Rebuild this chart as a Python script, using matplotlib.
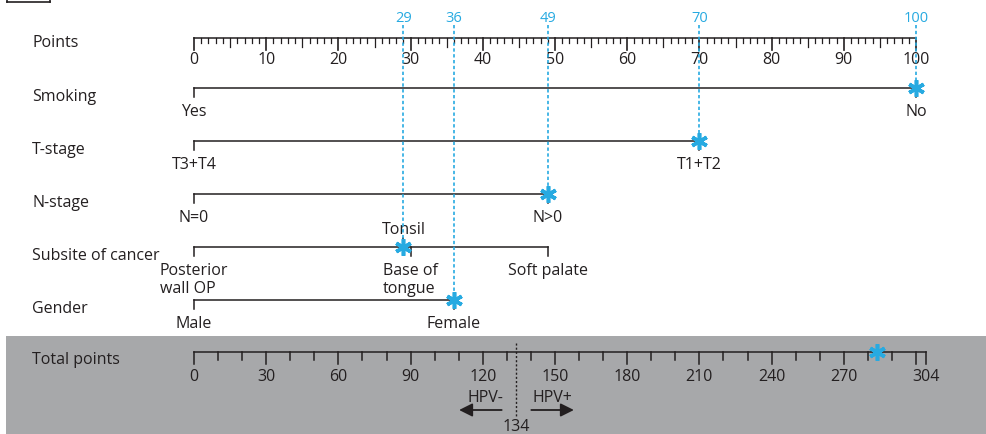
import matplotlib
matplotlib.use('Agg')
import matplotlib.pyplot as plt
from matplotlib.lines import Line2D
from matplotlib.patches import Rectangle
from matplotlib.transforms import blended_transform_factory

plt.rcParams['font.family'] = ['Open Sans', 'DejaVu Sans']

# nomogram variables and their point values
variables = ['Smoking', 'T-stage', 'N-stage', 'Subsite of cancer', 'Gender']
smoking_levels = ['Yes', 'No']
smoking_pts = [0, 100]
tstage_levels = ['T3+T4', 'T1+T2']
tstage_pts = [0, 70]
nstage_levels = ['N=0', 'N>0']
nstage_pts = [0, 49]
subsite_levels = ['Posterior\nwall OP', 'Tonsil', 'Base of\ntongue', 'Soft palate']
subsite_pts = [0, 29, 30, 49]
gender_levels = ['Male', 'Female']
gender_pts = [0, 36]

# example patient
chosen = ['No', 'T1+T2', 'N>0', 'Tonsil', 'Female']
chosen_pts = [100, 70, 49, 29, 36]
total_score = sum(chosen_pts)

total_ticks = [0, 30, 60, 90, 120, 150, 180, 210, 240, 270, 304]
total_max = 304
cutoff = 134

BLUE = '#27aae1'
INK = '#231f20'
GREY = '#a7a8aa'
FS = 11.5

fig = plt.figure(figsize=(9.87, 4.35), dpi=100)
ax = fig.add_axes([0, 0, 1, 1])
# x in points units, y in pixel rows
x0, ppt = 194, 7.22
ax.set_xlim(-x0 / ppt, (987 - x0) / ppt)
ax.set_ylim(435, 0)
ax.axis('off')
lab = blended_transform_factory(ax.transAxes, ax.transData)
tot = 100 / 300  # total points -> points scale

# shaded total-points band
ax.add_patch(Rectangle((6 / 987, 337), 1, 120, transform=lab, color=GREY, lw=0, zorder=0))

# small frame corner
for xs, ys in [([7, 50], [3, 3]), ([7, 7], [0, 3]), ([50, 50], [0, 3])]:
    fig.add_artist(Line2D([x / 987 for x in xs], [1 - y / 435 for y in ys],
                          transform=fig.transFigure, color=INK, lw=1.2))

# Points axis
yp = 39
ax.text(32 / 987, yp + 4, 'Points', transform=lab, fontsize=FS, va='center', color=INK)
ax.plot([0, 100], [yp, yp], color=INK, lw=1.1)
for i in range(101):
    ln = 12 if i % 10 == 0 else (9 if i % 5 == 0 else 5)
    ax.plot([i, i], [yp, yp + ln], color=INK, lw=0.9 if ln < 12 else 1.2)
    if i % 10 == 0:
        ax.text(i, yp + 21, str(i), fontsize=FS, ha='center', va='center', color=INK)

rows = [
    (smoking_levels, smoking_pts, 89),
    (tstage_levels, tstage_pts, 142),
    (nstage_levels, nstage_pts, 195),
    (subsite_levels, subsite_pts, 248),
    (gender_levels, gender_pts, 301),
]

for name, (levels, pts, y), pick, ppick in zip(variables, rows, chosen, chosen_pts):
    ax.text(32 / 987, y + 8, name, transform=lab, fontsize=FS, va='center', color=INK)
    ax.plot([min(pts), max(pts)], [y, y], color=INK, lw=1.1)
    for lv, p in zip(levels, pts):
        if lv == 'Tonsil':
            ax.plot([p, p], [y, y - 9], color=INK, lw=1.1)
            ax.text(p, y - 18, lv, fontsize=FS, ha='center', va='center', color=INK)
        else:
            ax.plot([p, p], [y, y + 9], color=INK, lw=1.1)
            ax.text(p, y + 15, lv, fontsize=FS, ha='center', va='top',
                    multialignment='left', color=INK, linespacing=1.15)
    # selected level: dotted guide up to the points scale
    ax.plot([ppick, ppick], [26, y], color=BLUE, lw=1.2, ls=(0, (2, 1.5)), zorder=3)
    ax.plot(ppick, y, marker=(6, 2, 0), ms=12, mew=2.6, color=BLUE, zorder=4)
    ax.text(ppick, 18, str(ppick), fontsize=10.5, ha='center', va='center', color=BLUE)

# Total points axis
yt = 353
ax.text(32 / 987, yt + 7, 'Total points', transform=lab, fontsize=FS, va='center', color=INK)
ax.plot([0, total_max * tot], [yt, yt], color=INK, lw=1.1)
for t in list(range(0, 301, 10)) + [total_max]:
    ln = 12 if (t % 30 == 0 or t == total_max) else 8
    ax.plot([t * tot, t * tot], [yt, yt + ln], color=INK, lw=1.1)
for t in total_ticks:
    ax.text(t * tot, yt + 24, str(t), fontsize=FS, ha='center', va='center', color=INK)
ax.plot(total_score * tot, yt, marker=(6, 2, 0), ms=12, mew=2.6, color=BLUE, zorder=4)

# HPV cut-off
ax.plot([cutoff * tot, cutoff * tot], [344, 417], color=INK, lw=1, ls=(0, (1.5, 1.5)))
ax.text(cutoff * tot, 427, str(cutoff), fontsize=FS, ha='center', va='center', color=INK)
ax.text((cutoff - 13) * tot, 398, 'HPV-', fontsize=FS, ha='center', va='center', color=INK)
ax.text((cutoff + 15) * tot, 398, 'HPV+', fontsize=FS, ha='center', va='center', color=INK)
ax.annotate('', xy=((cutoff - 25) * tot, 411), xytext=((cutoff - 5) * tot, 411),
            arrowprops=dict(arrowstyle='-|>', color=INK, lw=1.3, mutation_scale=20))
ax.annotate('', xy=((cutoff + 25) * tot, 411), xytext=((cutoff + 5) * tot, 411),
            arrowprops=dict(arrowstyle='-|>', color=INK, lw=1.3, mutation_scale=20))

fig.savefig('out.png', dpi=100)
